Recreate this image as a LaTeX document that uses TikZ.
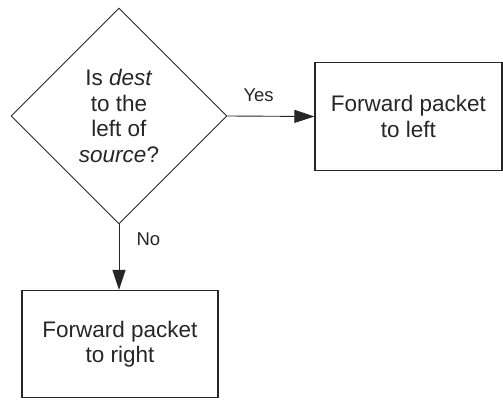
\documentclass[tikz,border=0pt]{standalone}
\usepackage{fontspec}
\setmainfont{Liberation Sans}
\usetikzlibrary{shapes.geometric,arrows.meta}
\definecolor{ink}{HTML}{262626}
\begin{document}
\begin{tikzpicture}[x=1pt,y=1pt,
  every node/.style={text=ink},
  decision/.style={draw=ink,line width=0.9pt,diamond,aspect=1,
    minimum width=216pt,minimum height=216pt,inner sep=0pt,
    align=center,font=\fontsize{22.5}{25.5}\selectfont},
  action/.style={draw=ink,line width=1.2pt,rectangle,inner sep=0pt,
    align=center,font=\fontsize{22.5}{25.5}\selectfont},
  flow/.style={draw=ink,line width=0.9pt,
    -{Triangle[length=20pt,width=13pt]}},
  branch/.style={font=\fontsize{18.5}{20}\selectfont}]
  \useasboundingbox (0,0) rectangle (503,399);
  % decision
  \node[decision] (q) at (119,283)
    {Is \textit{dest}\\to the\\left of\\\textit{source}?};
  % outcomes
  \node[action,minimum width=187pt,minimum height=108pt] (left) at (408.5,282.5)
    {Forward packet\\to left};
  \node[action,minimum width=196pt,minimum height=107pt] (right) at (120,55)
    {Forward packet\\to right};
  % connectors
  \draw[flow] (q.east) -- (left.west);
  \draw[flow] (q.south) -- (q.south |- right.north);
  \node[branch,anchor=base west] (yes) at (240,297) {Yes};
  \node[branch,anchor=base west] (no) at (133,153) {No};
\end{tikzpicture}
\end{document}
